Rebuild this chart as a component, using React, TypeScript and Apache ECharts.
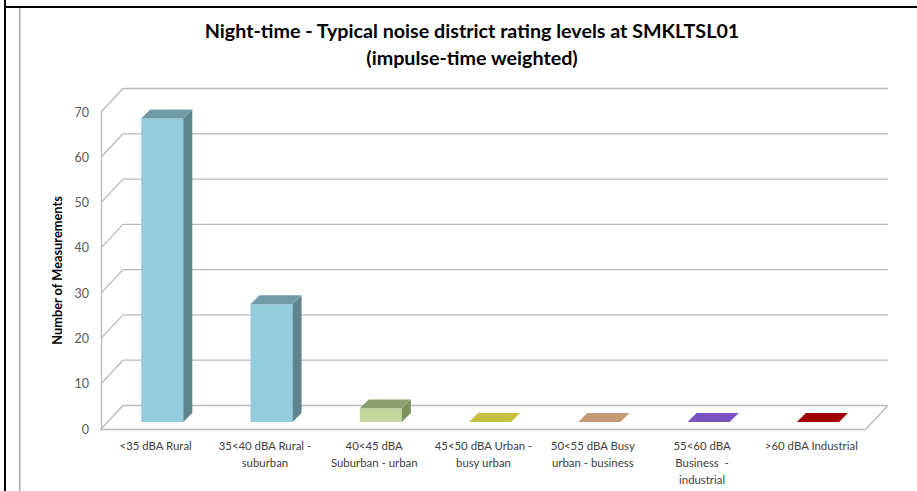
import React, { useEffect, useRef } from "react";
import * as echarts from "echarts";

const categories = [
  "<35 dBA Rural",
  "35<40 dBA Rural -\nsuburban",
  "40<45 dBA\nSuburban - urban",
  "45<50 dBA Urban -\nbusy urban",
  "50<55 dBA Busy\nurban - business",
  "55<60 dBA\nBusiness  -\nindustrial",
  ">60 dBA Industrial",
];
const measurements = [67, 26, 3, 0, 0, 0, 0];
const yTicks = [0, 10, 20, 30, 40, 50, 60, 70];

const frontColors = ["#93CDDD", "#93CDDD", "#C3D69B", "#C6C040", "#C49A74", "#7B52C6", "#A00000"];
const topColors = ["#6F9BA6", "#6F9BA6", "#8E9E6E", "#C6C040", "#C49A74", "#7B52C6", "#A00000"];
const sideColors = ["#5E858F", "#5E858F", "#7F8F5F", "#9A9530", "#9A7858", "#5E3F9A", "#7A0000"];

const DX = 22;
const DY = -23.5;
const GRID_COLOR = "#b9b9b9";
const FONT = "Lato, 'Open Sans', sans-serif";

export default function App() {
  const ref = useRef<HTMLDivElement>(null);
  useEffect(() => {
    if (!ref.current) return;
    const chart = echarts.init(ref.current, null, { renderer: "svg" });
    chart.setOption({
      animation: false,
      backgroundColor: "#ffffff",
      textStyle: { fontFamily: FONT },
      title: {
        text: "Night-time - Typical noise district rating levels at SMKLTSL01\n(impulse-time weighted)",
        left: 472,
        top: 16.5,
        padding: 0,
        textAlign: "center",
        textStyle: {
          fontFamily: FONT,
          fontSize: 19.7,
          fontWeight: "bold",
          color: "#000000",
          lineHeight: 27,
        },
      },
      graphic: [
        { type: "rect", shape: { x: 4, y: 0, width: 2, height: 491 }, style: { fill: "#000" } },
        { type: "rect", shape: { x: 4, y: 6, width: 913, height: 2 }, style: { fill: "#000" } },
        { type: "rect", shape: { x: 19, y: 8, width: 1.5, height: 483 }, style: { fill: "#a6a6a6" } },
      ],
      grid: { left: 101, right: 51, top: 112, bottom: 62 },
      xAxis: {
        type: "category",
        data: categories,
        boundaryGap: true,
        axisLine: { show: true, lineStyle: { color: GRID_COLOR, width: 1.3 } },
        axisTick: { show: false },
        splitLine: { show: false },
        axisLabel: {
          interval: 0,
          fontSize: 11.4,
          color: "#404040",
          lineHeight: 17,
          margin: 8,
          fontFamily: FONT,
        },
      },
      yAxis: {
        type: "value",
        min: 0,
        max: 70,
        interval: 10,
        name: "Number of Measurements",
        nameLocation: "middle",
        nameGap: 36,
        nameTextStyle: { fontSize: 12.8, fontWeight: "bold", color: "#000", fontFamily: FONT },
        axisLine: { show: true, lineStyle: { color: GRID_COLOR, width: 1.3 } },
        axisTick: { show: false },
        splitLine: { show: false },
        axisLabel: { fontSize: 12.5, color: "#595959", margin: 12, fontFamily: FONT },
      },
      series: [
        {
          type: "custom",
          z: 1,
          silent: true,
          data: yTicks.map((v) => [0, v]),
          renderItem: (params: any, api: any) => {
            const v = api.value(1);
            const p = api.coord([0, v]);
            const cs = params.coordSys;
            const left = cs.x;
            const right = cs.x + cs.width;
            const y = p[1];
            const style = { stroke: GRID_COLOR, lineWidth: 1.3, fill: "none" };
            const children: any[] = [
              { type: "line", shape: { x1: left, y1: y, x2: left + DX, y2: y + DY }, style },
              { type: "line", shape: { x1: left + DX, y1: y + DY, x2: right + DX, y2: y + DY }, style },
            ];
            if (v === 0) {
              children.push({ type: "line", shape: { x1: right, y1: y, x2: right + DX, y2: y + DY }, style });
            }
            return { type: "group", children };
          },
        },
        {
          type: "custom",
          z: 3,
          data: measurements.map((v, i) => [i, v]),
          renderItem: (params: any, api: any) => {
            const idx = api.value(0);
            const v = api.value(1);
            const base = api.coord([idx, 0]);
            const top = api.coord([idx, v]);
            const band = api.size([1, 0])[0];
            const w = band * 0.385;
            const f1x = DX * 0.3;
            const f1y = DY * 0.3;
            const dx = DX * 0.41;
            const dy = DY * 0.38;
            const xl = base[0] - w / 2 + f1x;
            const xr = xl + w;
            const yb = base[1] + f1y;
            const yt = top[1] + f1y;
            const children: any[] = [];
            if (v > 0) {
              children.push({
                type: "rect",
                shape: { x: xl, y: yt, width: w, height: yb - yt },
                style: { fill: frontColors[idx] },
              });
              children.push({
                type: "polygon",
                shape: { points: [[xr, yt], [xr, yb], [xr + dx, yb + dy], [xr + dx, yt + dy]] },
                style: { fill: sideColors[idx] },
              });
            }
            children.push({
              type: "polygon",
              shape: { points: [[xl, yt], [xr, yt], [xr + dx, yt + dy], [xl + dx, yt + dy]] },
              style: { fill: topColors[idx] },
            });
            return { type: "group", children };
          },
        },
      ],
    });
    return () => chart.dispose();
  }, []);
  return (
    <div
      ref={ref}
      style={{ position: "fixed", left: 0, top: 0, width: 917, height: 491, background: "#fff" }}
    />
  );
}
